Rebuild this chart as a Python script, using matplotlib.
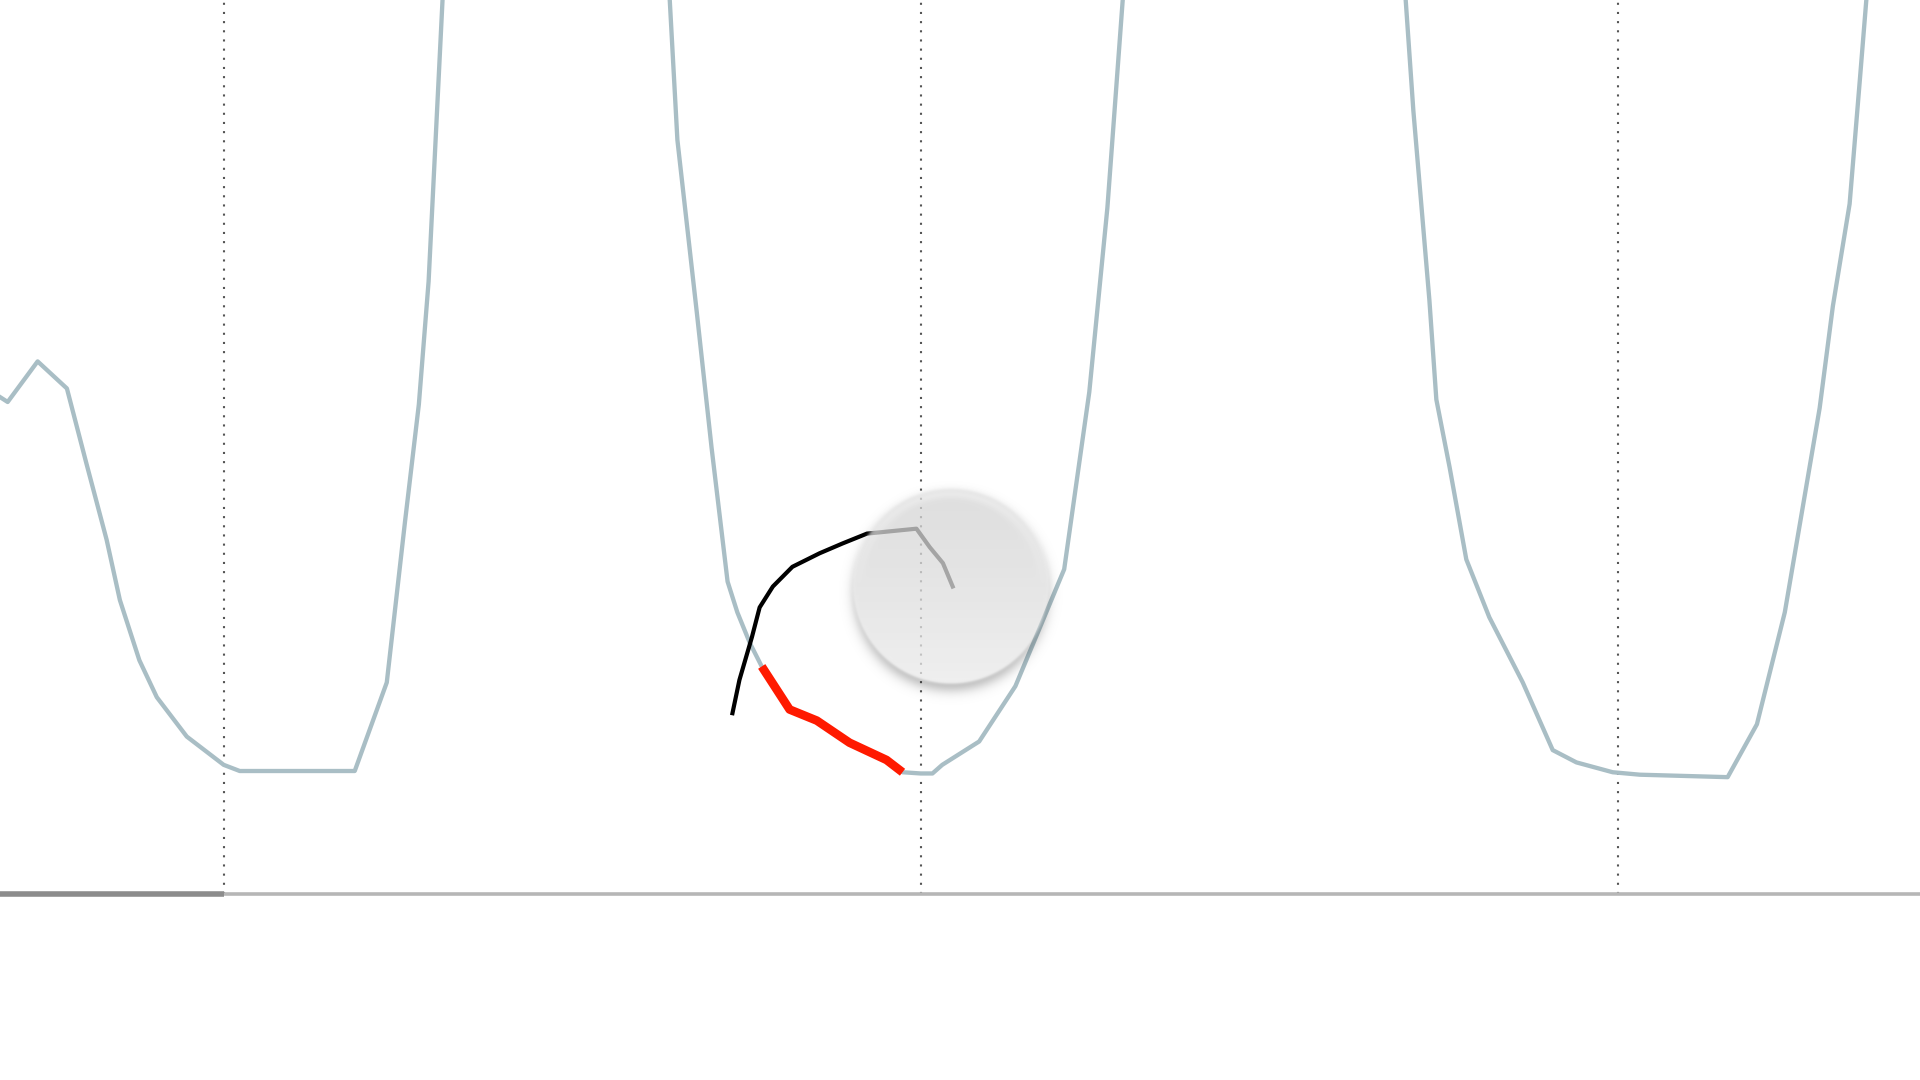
import numpy as np
import matplotlib
matplotlib.use("Agg")
import matplotlib.pyplot as plt

# periodic signal (x in cycles, y in level units; baseline = 0)
wave_x = [0.679, 0.690, 0.733, 0.775, 0.803, 0.832, 0.851, 0.879, 0.904, 0.947,
          1.000, 1.023, 1.188, 1.234, 1.260, 1.280, 1.294, 1.314, 1.319,
          1.640, 1.640, 1.651, 1.679, 1.700, 1.723, 1.737, 1.755,
          1.772, 1.812, 1.851, 1.898, 1.951, 1.974,
          2.000, 2.017, 2.031, 2.084, 2.136, 2.206, 2.242, 2.268, 2.290, 2.298,
          2.693, 2.696, 2.707, 2.730, 2.740, 2.759, 2.783, 2.816, 2.864, 2.907,
          2.941, 2.993, 3.032, 3.158, 3.200, 3.240, 3.265, 3.290, 3.309, 3.333,
          3.348, 3.357, 3.362]
wave_y = [4.04, 4.00, 4.33, 4.11, 3.50, 2.88, 2.39, 1.90, 1.60, 1.28,
          1.05, 1.00, 1.00, 1.72, 3.02, 3.98, 4.98, 7.27, 7.75,
          7.75, 7.27, 6.13, 4.72, 3.63, 2.54, 2.29, 2.04,
          1.85, 1.50, 1.41, 1.23, 1.09, 0.99,
          0.98, 0.98, 1.05, 1.24, 1.69, 2.64, 4.08, 5.58, 7.27, 7.75,
          7.75, 7.27, 6.37, 4.83, 4.02, 3.47, 2.72, 2.25, 1.72, 1.17,
          1.07, 0.99, 0.97, 0.95, 1.38, 2.29, 3.12, 3.95, 4.78, 5.61,
          6.64, 7.27, 7.75]

# highlighted stretch of the signal
red_x = [1.772, 1.812, 1.851, 1.898, 1.951, 1.974]
red_y = [1.85, 1.50, 1.41, 1.23, 1.09, 0.99]

# black stroke ending at the cursor
stroke_x = [1.730, 1.740, 1.758, 1.769, 1.788, 1.816, 1.855, 1.888, 1.923,
            1.994, 2.013, 2.032, 2.046]
stroke_y = [1.47, 1.74, 2.09, 2.33, 2.50, 2.66, 2.77, 2.85, 2.93,
            2.97, 2.82, 2.69, 2.50]

cursor_x, cursor_y = 2.043, 2.50
cursor_radius_px = 97

grid_x = [1, 2, 3]
progress_end = 1.0

xlim = (0.679, 3.434)
ylim = (-1.512, 7.268)

W, H = 1920, 1080
fig = plt.figure(figsize=(W / 100, H / 100), dpi=100)
ax = fig.add_axes([0, 0, 1, 1])
ax.set_xlim(*xlim)
ax.set_ylim(*ylim)
ax.axis("off")

# dotted grid lines
for gx in grid_x:
    ax.plot([gx, gx], [0, ylim[1]], color="#555555", lw=1.5,
            linestyle=(0, (1, 3.4)), zorder=1)

# baseline with progress part
ax.plot([progress_end, xlim[1]], [0, 0], color="#b6b6b6", lw=2.6, zorder=2,
        solid_capstyle="butt")
ax.plot([xlim[0], progress_end], [0, 0], color="#8c8c8c", lw=4.0, zorder=2,
        solid_capstyle="butt")

ax.plot(wave_x, wave_y, color="#a9bec5", lw=3.1, zorder=3,
        solid_joinstyle="round")
ax.plot(red_x, red_y, color="#ff1a00", lw=6.2, zorder=4,
        solid_capstyle="butt", solid_joinstyle="round")
ax.plot(stroke_x, stroke_y, color="#000000", lw=3.0, zorder=5,
        solid_joinstyle="round")

# cursor disc with soft shadow (built in pixel space)
px_x = W / (xlim[1] - xlim[0])
px_y = H / (ylim[1] - ylim[0])
half = 140
yy, xx = np.mgrid[-half:half, -half:half] + 0.5
r = np.hypot(xx, yy)
r_sh = np.hypot(xx, yy - 7)
disc = 0.5 * (1 - np.tanh((r - cursor_radius_px) / 1.8))
shadow = 0.30 * 0.5 * (1 - np.tanh((r_sh - cursor_radius_px) / 7.0)) * (1 - disc)

t = yy / cursor_radius_px
shade = 0.87 - 0.04 * np.clip(-t, 0, 1) + 0.05 * np.clip(t, 0, 1)
rim = np.exp(-((r - cursor_radius_px + 5) / 5.0) ** 2) * np.clip(-t, 0, 1)
shade = np.clip(shade + 0.06 * rim, 0, 1)

sh_img = np.zeros((2 * half, 2 * half, 4))
sh_img[..., 3] = shadow
disc_img = np.zeros((2 * half, 2 * half, 4))
disc_img[..., 0] = shade
disc_img[..., 1] = shade
disc_img[..., 2] = shade
disc_img[..., 3] = 0.76 * disc

extent = (cursor_x - half / px_x, cursor_x + half / px_x,
          cursor_y - half / px_y, cursor_y + half / px_y)
ax.imshow(sh_img, extent=extent, origin="upper", aspect="auto", zorder=6,
          interpolation="bilinear")
ax.imshow(disc_img, extent=extent, origin="upper", aspect="auto", zorder=7,
          interpolation="bilinear")
ax.set_xlim(*xlim)
ax.set_ylim(*ylim)

fig.savefig("out.png", dpi=100)
